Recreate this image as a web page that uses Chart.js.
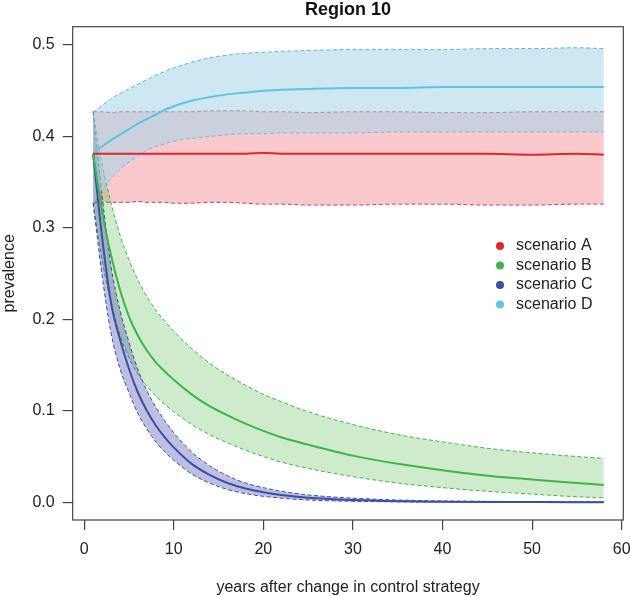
<!DOCTYPE html>
<html>
<head>
<meta charset="utf-8">
<script src="https://cdn.jsdelivr.net/npm/chart.js@4.4.1/dist/chart.umd.min.js"></script>
<style>
  html, body { margin: 0; padding: 0; background: #fff; }
  #wrap { width: 630px; height: 596px; }
</style>
</head>
<body>
<div id="wrap"><canvas id="grafico" width="630" height="596"></canvas></div>
<script>
// ==================== DATOS ====================
const titulo = 'Region 10';
const escenarios = ['scenario A', 'scenario B', 'scenario C', 'scenario D'];
const anios = [1, 2, 3, 4, 5, 6, 7, 8, 9, 10, 12, 14, 16, 18, 20, 22, 25, 30, 35, 40, 45, 50, 55, 58];
const ticksX = [0, 10, 20, 30, 40, 50, 60];
const ticksY = [0.0, 0.1, 0.2, 0.3, 0.4, 0.5];

// scenario A
const medianaA = [0.381, 0.381, 0.381, 0.381, 0.381, 0.381, 0.381, 0.381, 0.381, 0.381, 0.381, 0.381, 0.381, 0.381, 0.382, 0.381, 0.381, 0.381, 0.381, 0.381, 0.381, 0.380, 0.381, 0.380];
const superiorA = [0.427, 0.427, 0.426, 0.427, 0.427, 0.427, 0.427, 0.427, 0.427, 0.427, 0.427, 0.428, 0.428, 0.428, 0.427, 0.427, 0.426, 0.427, 0.427, 0.426, 0.426, 0.427, 0.427, 0.427];
const inferiorA = [0.327, 0.328, 0.328, 0.328, 0.328, 0.329, 0.328, 0.328, 0.328, 0.327, 0.327, 0.328, 0.328, 0.327, 0.326, 0.326, 0.325, 0.325, 0.326, 0.326, 0.325, 0.325, 0.326, 0.326];
// scenario B
const medianaB = [0.381, 0.318, 0.270, 0.232, 0.203, 0.182, 0.166, 0.153, 0.143, 0.134, 0.118, 0.105, 0.095, 0.086, 0.078, 0.071, 0.063, 0.051, 0.042, 0.035, 0.029, 0.025, 0.021, 0.019];
const superiorB = [0.427, 0.370, 0.327, 0.292, 0.265, 0.243, 0.225, 0.210, 0.198, 0.187, 0.168, 0.152, 0.139, 0.128, 0.118, 0.110, 0.099, 0.085, 0.074, 0.066, 0.059, 0.054, 0.050, 0.048];
const inferiorB = [0.327, 0.265, 0.218, 0.183, 0.158, 0.140, 0.127, 0.116, 0.107, 0.099, 0.085, 0.074, 0.065, 0.057, 0.050, 0.044, 0.037, 0.028, 0.021, 0.016, 0.012, 0.009, 0.006, 0.005];
// scenario C
const medianaC = [0.381, 0.290, 0.218, 0.178, 0.146, 0.120, 0.100, 0.084, 0.071, 0.060, 0.042, 0.030, 0.021, 0.015, 0.011, 0.008, 0.005, 0.0025, 0.0012, 0.0006, 0.0003, 0.0002, 0.0001, 0.0001];
const superiorC = [0.427, 0.335, 0.258, 0.210, 0.175, 0.145, 0.122, 0.104, 0.089, 0.076, 0.055, 0.040, 0.029, 0.021, 0.016, 0.012, 0.008, 0.0045, 0.0025, 0.0015, 0.0010, 0.0007, 0.0005, 0.0004];
const inferiorC = [0.327, 0.248, 0.185, 0.146, 0.120, 0.097, 0.080, 0.066, 0.055, 0.046, 0.031, 0.021, 0.014, 0.0095, 0.0065, 0.0045, 0.0025, 0.001, 0.0005, 0.0002, 0.0001, 0.0001, 0, 0];
// scenario D
const medianaD = [0.381, 0.389, 0.396, 0.402, 0.408, 0.414, 0.419, 0.424, 0.429, 0.433, 0.439, 0.443, 0.446, 0.448, 0.450, 0.451, 0.452, 0.453, 0.453, 0.454, 0.454, 0.454, 0.454, 0.454];
const superiorD = [0.426, 0.434, 0.441, 0.447, 0.452, 0.457, 0.462, 0.467, 0.471, 0.475, 0.481, 0.486, 0.489, 0.491, 0.492, 0.493, 0.494, 0.495, 0.495, 0.495, 0.496, 0.496, 0.497, 0.496];
const inferiorD = [0.327, 0.342, 0.354, 0.364, 0.372, 0.379, 0.385, 0.389, 0.392, 0.395, 0.398, 0.400, 0.402, 0.403, 0.403, 0.404, 0.404, 0.404, 0.405, 0.405, 0.405, 0.405, 0.405, 0.405];

// ==================== COLORES ====================
const colorLinea = ['#e3262b', '#3db549', '#3a50a2', '#5ec5dc'];
const colorBorde = ['#c23d4e', '#46b04c', '#3f4c9e', '#5ab8d2'];
const colorBanda = ['rgba(240,75,88,0.30)', 'rgba(80,185,70,0.28)', 'rgba(70,70,175,0.35)', 'rgba(164,213,233,0.55)'];

const series = [
  [medianaA, superiorA, inferiorA],
  [medianaB, superiorB, inferiorB],
  [medianaC, superiorC, inferiorC],
  [medianaD, superiorD, inferiorD]
];

function puntos(valores) {
  return anios.map((a, i) => ({ x: a, y: valores[i] }));
}

// medianas primero (quedan arriba); bandas en orden D, C, B, A (D queda encima)
const datasets = [];
series.forEach((s, i) => {
  datasets.push({
    label: escenarios[i],
    data: puntos(s[0]),
    borderColor: colorLinea[i],
    borderWidth: 2,
    fill: false
  });
});
[3, 2, 1, 0].forEach(i => {
  const s = series[i];
  datasets.push({
    label: escenarios[i] + ' sup',
    data: puntos(s[1]),
    borderColor: colorBorde[i],
    borderWidth: 1,
    borderDash: [4, 2.5],
    backgroundColor: colorBanda[i],
    fill: '+1'
  });
  datasets.push({
    label: escenarios[i] + ' inf',
    data: puntos(s[2]),
    borderColor: colorBorde[i],
    borderWidth: 1,
    borderDash: [4, 2.5],
    fill: false
  });
});

// ==================== PLUGINS ====================
const fuente = { family: '"Liberation Sans", Arial, sans-serif', size: 16 };

const caja = {
  id: 'caja',
  afterDraw(chart) {
    const { ctx, chartArea: a } = chart;
    ctx.save();
    ctx.strokeStyle = '#444';
    ctx.lineWidth = 1.2;
    ctx.strokeRect(a.left, a.top, a.right - a.left, a.bottom - a.top);
    // título centrado sobre el área del gráfico
    ctx.fillStyle = '#111';
    ctx.font = 'bold 18px ' + fuente.family;
    ctx.textAlign = 'center';
    ctx.textBaseline = 'middle';
    ctx.fillText(titulo, (a.left + a.right) / 2, 10);
    ctx.restore();
  }
};

const leyenda = {
  id: 'leyenda',
  afterDraw(chart) {
    const ctx = chart.ctx;
    ctx.save();
    ctx.font = '16px ' + fuente.family;
    ctx.textBaseline = 'middle';
    escenarios.forEach((e, i) => {
      const y = 246 + i * 19.5;
      ctx.fillStyle = colorLinea[i];
      ctx.beginPath();
      ctx.arc(500, y, 4, 0, Math.PI * 2);
      ctx.fill();
      ctx.fillStyle = '#222';
      ctx.fillText(e, 516, y);
    });
    ctx.restore();
  }
};

// ==================== GRÁFICO ====================
new Chart(document.getElementById('grafico').getContext('2d'), {
  type: 'line',
  data: { datasets },
  options: {
    responsive: false,
    animation: false,
    layout: { padding: { top: 26.7, right: 6.7, bottom: 0, left: 0 } },
    elements: {
      point: { radius: 0 },
      line: { cubicInterpolationMode: 'monotone' }
    },
    plugins: {
      legend: { display: false },
      tooltip: { enabled: false },
      title: { display: false }
    },
    scales: {
      x: {
        type: 'linear',
        min: -1.28,
        max: 60.18,
        afterBuildTicks: s => { s.ticks = ticksX.map(v => ({ value: v })); },
        afterFit: s => { s.height = 76; s.paddingLeft = 0; s.paddingRight = 0; },
        grid: { drawOnChartArea: false, drawTicks: true, tickLength: 10, color: '#444', lineWidth: 1.2 },
        border: { display: false },
        ticks: { color: '#222', font: fuente, padding: 10, maxRotation: 0 },
        title: { display: true, text: 'years after change in control strategy', color: '#222', font: { family: fuente.family, size: 16, lineHeight: 1 }, padding: { top: 0, bottom: 0 } }
      },
      y: {
        type: 'linear',
        min: -0.0194,
        max: 0.52,
        afterBuildTicks: s => { s.ticks = ticksY.map(v => ({ value: v })); },
        afterFit: s => { s.width = 72.7; s.paddingTop = 0; s.paddingBottom = 0; },
        grid: { drawOnChartArea: false, drawTicks: true, tickLength: 10, color: '#444', lineWidth: 1.2 },
        border: { display: false },
        ticks: { color: '#222', font: fuente, padding: 8, callback: v => v.toFixed(1) },
        title: { display: true, text: 'prevalence', color: '#222', font: { family: fuente.family, size: 16, lineHeight: 1 }, padding: { top: 1.5, bottom: 0 } }
      }
    }
  },
  plugins: [caja, leyenda]
});
</script>
</body>
</html>
